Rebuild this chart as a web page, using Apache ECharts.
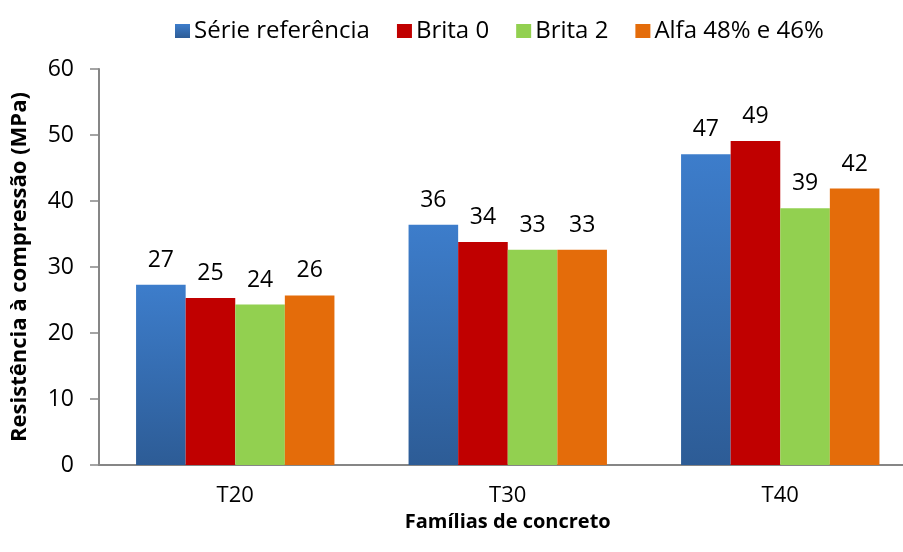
<!DOCTYPE html>
<html>
<head>
<meta charset="utf-8">
<script src="https://cdn.jsdelivr.net/npm/echarts@6/dist/echarts.min.js"></script>
<style>
html, body { margin: 0; padding: 0; background: #fff; }
#chart { width: 903px; height: 552px; }
</style>
</head>
<body>
<div id="chart"></div>
<script>
var categories = ['T20', 'T30', 'T40'];
var serieReferencia = [27.3, 36.4, 47.1];
var brita0 = [25.3, 33.8, 49.1];
var brita2 = [24.3, 32.6, 38.9];
var alfa = [25.7, 32.6, 41.9];

var chart = echarts.init(document.getElementById('chart'));

var font = 'Open Sans';

function barSeries(name, data, color) {
	return {
		name: name,
		type: 'bar',
		data: data,
		barGap: '0%',
		barCategoryGap: '27.2%',
		itemStyle: { color: color },
		label: {
			show: true,
			position: 'top',
			distance: 13,
			color: '#000',
			fontFamily: font,
			fontSize: 23,
			formatter: function (p) { return Math.round(p.value); }
		}
	};
}

chart.setOption({
	animation: false,
	textStyle: { fontFamily: font },
	legend: {
		top: 14,
		left: 170,
		itemWidth: 15,
		itemHeight: 14,
		itemGap: 27,
		icon: 'rect',
		textStyle: { fontFamily: font, fontSize: 24, color: '#000', padding: [0, 0, 0, -1] }
	},
	grid: {
		left: 99,
		right: -13.5,
		top: 69,
		bottom: 87,
		outerBoundsMode: 'none',
		containLabel: false
	},
	xAxis: {
		type: 'category',
		data: categories,
		name: 'Famílias de concreto',
		nameLocation: 'middle',
		nameGap: 44,
		nameTextStyle: { fontFamily: font, fontSize: 20, fontWeight: 'bold', color: '#000' },
		axisLine: { lineStyle: { color: '#868686', width: 2 } },
		axisTick: { show: false },
		axisLabel: { fontFamily: font, fontSize: 22, color: '#000', margin: 20 }
	},
	yAxis: {
		type: 'value',
		min: 0,
		max: 60,
		interval: 10,
		name: 'Resistência à compressão (MPa)',
		nameLocation: 'middle',
		nameGap: 68,
		nameTextStyle: { fontFamily: font, fontSize: 22, fontWeight: 'bold', color: '#000' },
		axisLine: { show: true, lineStyle: { color: '#868686', width: 2 } },
		axisTick: { show: true, length: 9, lineStyle: { color: '#868686', width: 1.5 } },
		splitLine: { show: false },
		axisLabel: { fontFamily: font, fontSize: 23, color: '#000', margin: 25 }
	},
	series: [
		barSeries('Série referência', serieReferencia, new echarts.graphic.LinearGradient(0, 0, 0, 1, [
			{ offset: 0, color: '#3d7dcb' },
			{ offset: 1, color: '#2d5c96' }
		])),
		barSeries('Brita 0', brita0, '#c00000'),
		barSeries('Brita 2', brita2, '#92d050'),
		barSeries('Alfa 48% e 46%', alfa, '#e46c0a')
	]
});
</script>
</body>
</html>
